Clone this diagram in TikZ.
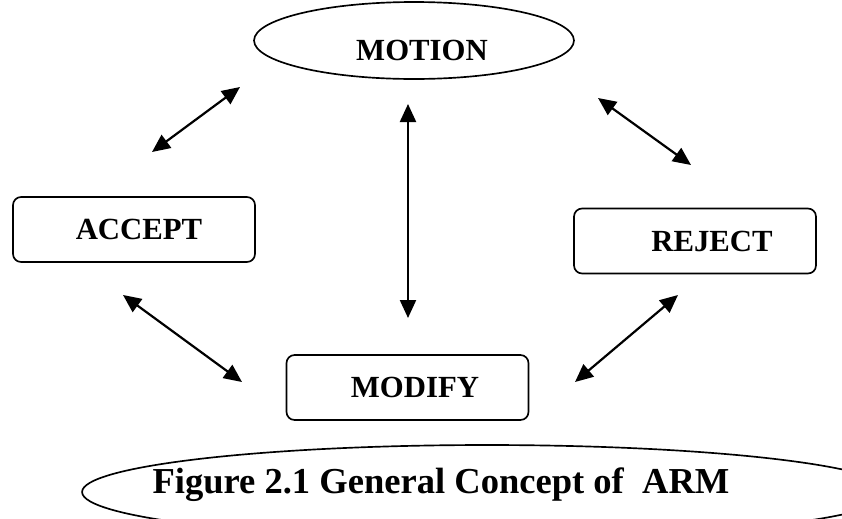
\documentclass[tikz,border=0pt]{standalone}
\usepackage{fontspec}
\setmainfont{Liberation Serif}
\usetikzlibrary{shapes.geometric,arrows.meta}

\begin{document}
\begin{tikzpicture}[x=0.02cm, y=-0.02cm, line width=0.95pt,
    word/.style={font=\fontsize{17.5}{20}\selectfont\bfseries},
    box/.style={word, draw, rounded corners=0.16cm, minimum width=4.84cm, minimum height=1.3cm, inner sep=0pt, text height=0.45cm, text depth=0.05cm},
    link/.style={{Triangle[length=0.36cm,width=0.32cm]}-{Triangle[length=0.36cm,width=0.32cm]}, line width=1.25pt}]
  \clip (0,0) rectangle (842,518);
  \node[word, draw, ellipse, minimum width=6.4cm, minimum height=1.54cm, inner sep=0pt, text height=0.9cm, text depth=0.1cm] (motion) at (414,40.5) {\hspace{0.32cm}MOTION};
  \node[box] (accept) at (134,229.5) {\hspace{0.2cm}ACCEPT};
  \node[box] (reject) at (695,241) {\hspace{0.68cm}REJECT};
  \node[box] (modify) at (407.5,387.5) {\hspace{0.3cm}MODIFY};
  \node[word, font=\fontsize{20.8}{24}\selectfont\bfseries] (caption) at (441,485) {Figure 2.1 General Concept of\ \ ARM};
  \draw ([xshift=0.92cm, yshift=-0.14cm]caption.center) ellipse [x radius=8.1cm, y radius=0.94cm];

  \coordinate (m1) at (240,87);  \coordinate (a1) at (152,152);
  \coordinate (m2) at (598,98);  \coordinate (r1) at (691,165);
  \coordinate (m3) at (408,104); \coordinate (d1) at (408,318);
  \coordinate (a2) at (123,295); \coordinate (d2) at (242,382);
  \coordinate (r2) at (678,295); \coordinate (d3) at (575,382);
  \draw[link] (m1) -- (a1);
  \draw[link] (m2) -- (r1);
  \draw[link] (m3) -- (d1);
  \draw[link] (a2) -- (d2);
  \draw[link] (r2) -- (d3);
\end{tikzpicture}
\end{document}
